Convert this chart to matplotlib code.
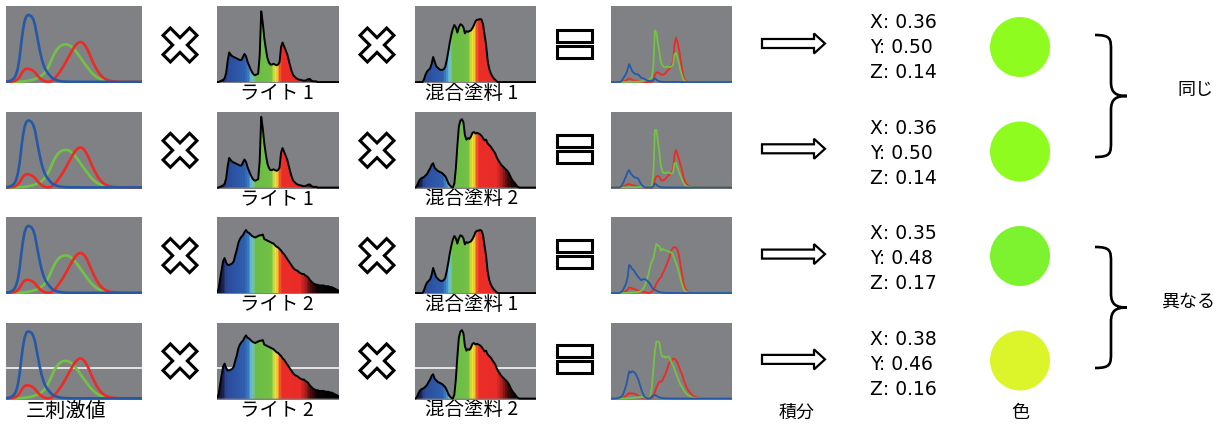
import numpy as np
import matplotlib.pyplot as plt
from matplotlib.colors import LinearSegmentedColormap
from matplotlib.patches import Polygon, Circle, Rectangle, PathPatch
from matplotlib.path import Path

# wavelength grid (nm)
wl = np.arange(380, 781, 5)

# CIE 1931 colour matching functions
cmf_x = [0.001, 0.002, 0.004, 0.008, 0.014, 0.023, 0.044, 0.078, 0.134, 0.215,
         0.284, 0.329, 0.348, 0.348, 0.336, 0.319, 0.291, 0.251, 0.195, 0.142,
         0.096, 0.058, 0.032, 0.015, 0.005, 0.002, 0.009, 0.029, 0.063, 0.110,
         0.166, 0.226, 0.290, 0.360, 0.433, 0.512, 0.595, 0.678, 0.762, 0.843,
         0.916, 0.979, 1.026, 1.057, 1.062, 1.046, 1.003, 0.938, 0.854, 0.751,
         0.642, 0.542, 0.448, 0.361, 0.284, 0.219, 0.165, 0.121, 0.087, 0.064,
         0.047, 0.033, 0.023, 0.016, 0.011, 0.008, 0.006, 0.004, 0.003, 0.002,
         0.001, 0.001, 0.001, 0.0, 0.0, 0.0, 0.0, 0.0, 0.0, 0.0, 0.0]
cmf_y = [0.0, 0.0, 0.0, 0.0, 0.0, 0.001, 0.001, 0.002, 0.004, 0.007,
         0.012, 0.017, 0.023, 0.030, 0.038, 0.048, 0.060, 0.074, 0.091, 0.113,
         0.139, 0.169, 0.208, 0.259, 0.323, 0.407, 0.503, 0.608, 0.710, 0.793,
         0.862, 0.915, 0.954, 0.980, 0.995, 1.000, 0.995, 0.979, 0.952, 0.915,
         0.870, 0.816, 0.757, 0.695, 0.631, 0.567, 0.503, 0.441, 0.381, 0.321,
         0.265, 0.217, 0.175, 0.138, 0.107, 0.082, 0.061, 0.045, 0.032, 0.023,
         0.017, 0.012, 0.008, 0.006, 0.004, 0.003, 0.002, 0.001, 0.001, 0.001,
         0.001, 0.0, 0.0, 0.0, 0.0, 0.0, 0.0, 0.0, 0.0, 0.0, 0.0]
cmf_z = [0.006, 0.011, 0.020, 0.036, 0.068, 0.110, 0.207, 0.371, 0.646, 1.039,
         1.386, 1.623, 1.747, 1.783, 1.772, 1.744, 1.669, 1.528, 1.288, 1.042,
         0.813, 0.616, 0.465, 0.353, 0.272, 0.212, 0.158, 0.112, 0.078, 0.057,
         0.042, 0.030, 0.020, 0.013, 0.009, 0.006, 0.004, 0.003, 0.002, 0.002,
         0.002, 0.001, 0.001, 0.001, 0.001, 0.001] + [0.0] * 35

# light spectra (relative)
light1 = [0.00, 0.00, 0.01, 0.02, 0.03, 0.05, 0.12, 0.28, 0.39, 0.36,
          0.34, 0.33, 0.32, 0.31, 0.30, 0.29, 0.29, 0.33, 0.37, 0.34,
          0.27, 0.22, 0.17, 0.13, 0.10, 0.09, 0.10, 0.11, 0.35, 0.93,
          0.78, 0.58, 0.44, 0.32, 0.26, 0.23, 0.23, 0.24, 0.23, 0.22,
          0.23, 0.26, 0.46, 0.52, 0.47, 0.42, 0.37, 0.29, 0.21, 0.14,
          0.09, 0.07, 0.05, 0.04, 0.03, 0.03, 0.02, 0.02, 0.02, 0.03,
          0.04, 0.04, 0.02, 0.01, 0.01, 0.01] + [0.0] * 15
light2 = [0.02, 0.05, 0.18, 0.30, 0.42, 0.46, 0.40, 0.37, 0.37, 0.38,
          0.39, 0.42, 0.50, 0.57, 0.66, 0.71, 0.74, 0.76, 0.80, 0.83,
          0.80, 0.79, 0.77, 0.75, 0.74, 0.73, 0.74, 0.75, 0.76, 0.76,
          0.77, 0.71, 0.70, 0.69, 0.68, 0.67, 0.66, 0.65, 0.63, 0.61,
          0.60, 0.58, 0.56, 0.53, 0.51, 0.48, 0.45, 0.42, 0.39, 0.36,
          0.33, 0.31, 0.30, 0.29, 0.27, 0.26, 0.25, 0.25, 0.23, 0.22,
          0.20, 0.17, 0.15, 0.13, 0.12, 0.11, 0.11, 0.10, 0.10, 0.10,
          0.10, 0.09, 0.09, 0.09, 0.08, 0.08, 0.07, 0.06, 0.05, 0.04, 0.03]

# paint reflectances (relative)
paint1 = [0.0, 0.0, 0.0, 0.0, 0.0, 0.0, 0.04, 0.10, 0.14, 0.16,
          0.18, 0.24, 0.33, 0.27, 0.21, 0.19, 0.17, 0.16, 0.16, 0.17,
          0.20, 0.29, 0.40, 0.52, 0.62, 0.70, 0.75, 0.72, 0.65, 0.72,
          0.76, 0.75, 0.72, 0.64, 0.67, 0.66, 0.67, 0.68, 0.71, 0.75,
          0.80, 0.82, 0.82, 0.83, 0.82, 0.76, 0.62, 0.49, 0.29, 0.18,
          0.12, 0.08, 0.05, 0.03, 0.01] + [0.0] * 26
paint2 = [0.0, 0.01, 0.06, 0.10, 0.12, 0.13, 0.14, 0.16, 0.18, 0.22,
          0.25, 0.30, 0.32, 0.26, 0.24, 0.22, 0.21, 0.20, 0.19, 0.17,
          0.15, 0.11, 0.06, 0.03, 0.01, 0.0, 0.05, 0.25, 0.55, 0.80,
          0.88, 0.90, 0.86, 0.69, 0.63, 0.65, 0.64, 0.67, 0.72, 0.73,
          0.71, 0.72, 0.71, 0.70, 0.68, 0.65, 0.62, 0.63, 0.58, 0.56,
          0.54, 0.51, 0.48, 0.45, 0.40, 0.36, 0.33, 0.30, 0.28, 0.26,
          0.24, 0.22, 0.19, 0.15, 0.11, 0.08, 0.06, 0.03, 0.01] + [0.0] * 12

row_lights = [light1, light1, light2, light2]
row_paints = [paint1, paint2, paint1, paint2]
light_labels = ['ライト 1', 'ライト 1', 'ライト 2', 'ライト 2']
paint_labels = ['混合塗料 1', '混合塗料 2', '混合塗料 1', '混合塗料 2']
xyz_values = [(0.36, 0.50, 0.14), (0.36, 0.50, 0.14), (0.35, 0.48, 0.17), (0.38, 0.46, 0.16)]
dot_colors = ['#8dfc1e', '#8dfc1e', '#7df22e', '#dcf52a']
group_labels = ['同じ', '異なる']

# spectrum colours for the fills
spec_wl = [380, 400, 412, 470, 482, 490, 497, 502, 555, 563, 570, 578, 585, 592, 650, 668, 685, 705, 780]
spec_col = ['#0b0b18', '#1e2455', '#2b4c9c', '#2f5fae', '#3a7cc0', '#62b8d8', '#7cc5a0', '#6abd46',
            '#72c046', '#b8d444', '#f1e52f', '#f6b033', '#ef5a2b', '#ec2e29', '#e82c28', '#b01f1f',
            '#4a0d0d', '#0c0404', '#000000']
spec_cmap = LinearSegmentedColormap.from_list(
    'spec', [((w - 380) / 400.0, c) for w, c in zip(spec_wl, spec_col)])

W, H = 1225, 428
GRAY = '#808184'
BLUE, GREEN, RED = '#2459a8', '#72c244', '#ee2a24'
JP = ['Noto Sans CJK JP', 'DejaVu Sans']

fig = plt.figure(figsize=(W / 100, H / 100), dpi=100)

# overlay in pixel coordinates for symbols and text
ov = fig.add_axes([0, 0, 1, 1])
ov.set_xlim(0, W)
ov.set_ylim(H, 0)
ov.axis('off')

ROW_TOP = [6, 111.5, 217, 322.5]
PH = 77
SYM_Y = [44, 149.3, 254.6, 359.9]
LABEL_Y = [93, 198.5, 304, 409.5]


def panel(x0, y0, w, h):
    ax = fig.add_axes([x0 / W, 1 - (y0 + h) / H, w / W, h / H])
    ax.set_facecolor(GRAY)
    ax.set_xticks([])
    ax.set_yticks([])
    for s in ax.spines.values():
        s.set_visible(False)
    ax.set_xlim(380, 780)
    return ax


def spectrum_panel(ax, vals):
    ax.set_ylim(-0.012, 1.0)
    strip = spec_cmap((wl - 380) / 400.0)[np.newaxis, :, :]
    im = ax.imshow(strip, extent=(377.5, 782.5, 0, 1), aspect='auto',
                   interpolation='nearest', zorder=2)
    verts = [(380, 0)] + list(zip(wl, vals)) + [(780, 0)]
    clip = Polygon(verts, closed=True, facecolor='none', edgecolor='none')
    ax.add_patch(clip)
    im.set_clip_path(clip)
    ax.plot(wl, vals, color='black', lw=1.4, zorder=3)
    ax.set_xlim(380, 780)


def cross(cx, cy):
    L, w = 18.8, 5.2
    pts = np.array([(w, w), (L, w), (L, -w), (w, -w), (w, -L), (-w, -L), (-w, -w),
                    (-L, -w), (-L, w), (-w, w), (-w, L), (w, L)])
    c, s = np.cos(np.pi / 4), np.sin(np.pi / 4)
    rot = pts @ np.array([[c, s], [-s, c]])
    ov.add_patch(Polygon(rot + [cx, cy], closed=True, facecolor='white',
                         edgecolor='black', lw=2.2, joinstyle='miter'))


def equals(cx, cy):
    for dy in (-8.5, 7.5):
        ov.add_patch(Rectangle((cx - 17.5, cy + dy - 6), 35, 12, facecolor='white',
                               edgecolor='black', lw=2.2))


def arrow(cy):
    x0, x1, xt = 762, 814, 825
    pts = [(x0, cy - 4.5), (x1, cy - 4.5), (x1, cy - 10), (xt, cy), (x1, cy + 10),
           (x1, cy + 4.5), (x0, cy + 4.5)]
    ov.add_patch(Polygon(pts, closed=True, facecolor='white', edgecolor='black',
                         lw=1.6, joinstyle='miter'))


def brace(ytop, ybot):
    x0, xm, xt = 1095, 1111, 1127
    ym = (ytop + ybot) / 2.0
    verts = [(x0, ytop), (xm, ytop), (xm, ytop + 4), (xm, ytop + 16),
             (xm, ym - 14),
             (xm, ym - 3), (xm + 5, ym), (xt, ym),
             (xm + 5, ym), (xm, ym + 3), (xm, ym + 14),
             (xm, ybot - 16),
             (xm, ybot - 4), (xm, ybot), (x0, ybot)]
    codes = [Path.MOVETO, Path.CURVE4, Path.CURVE4, Path.CURVE4, Path.LINETO,
             Path.CURVE4, Path.CURVE4, Path.CURVE4,
             Path.CURVE4, Path.CURVE4, Path.CURVE4, Path.LINETO,
             Path.CURVE4, Path.CURVE4, Path.CURVE4]
    ov.add_patch(PathPatch(Path(verts, codes), facecolor='none', edgecolor='black', lw=1.9))


cmf_x_a, cmf_y_a, cmf_z_a = np.array(cmf_x), np.array(cmf_y), np.array(cmf_z)

for r in range(4):
    top = ROW_TOP[r]

    # tristimulus curves
    ax = panel(6, top, 136, PH)
    ax.plot(wl, cmf_y_a, color=GREEN, lw=1.9)
    ax.plot(wl, cmf_x_a, color=RED, lw=1.9)
    ax.plot(wl, cmf_z_a, color=BLUE, lw=1.9)
    ax.set_ylim(-0.03, 2.02)
    if r == 3:
        ax.axhline(0.81, color='white', lw=1.1, zorder=0.5)

    # light
    ax = panel(217, top, 122, PH)
    spectrum_panel(ax, row_lights[r])
    if r == 3:
        ax.axhline(0.4, color='white', lw=1.1, zorder=0.5)

    # paint
    ax = panel(415, top, 121, PH)
    spectrum_panel(ax, row_paints[r])
    if r == 3:
        ax.axhline(0.4, color='white', lw=1.1, zorder=0.5)

    # product
    ax = panel(611, top, 121, PH)
    lp = np.array(row_lights[r]) * np.array(row_paints[r])
    ax.plot(wl, cmf_x_a * lp, color=RED, lw=1.3)
    ax.plot(wl, cmf_y_a * lp, color=GREEN, lw=1.3)
    ax.plot(wl, cmf_z_a * lp, color=BLUE, lw=1.3)
    ax.set_ylim(-0.01, 0.78)

    sy = SYM_Y[r]
    cross(180, sy + 1)
    cross(377, sy + 1)
    equals(574, sy)
    arrow(sy - 0.5)

    ov.text(277, LABEL_Y[r], light_labels[r], ha='center', va='center', fontsize=14, family=JP)
    ov.text(472, LABEL_Y[r], paint_labels[r], ha='center', va='center', fontsize=14, family=JP)

    for k, (name, v) in enumerate(zip(['X', 'Y', 'Z'], xyz_values[r])):
        ov.text(870, 28.3 + 105.5 * r + 25 * k, f'{name}: {v:.2f}', ha='left',
                va='baseline', fontsize=13.5, family='DejaVu Sans')

    ov.add_patch(Circle((1020, 47 + 104.5 * r), 30, facecolor=dot_colors[r], edgecolor='none'))

brace(35, 157)
brace(247, 368)
ov.text(1195, 90, group_labels[0], ha='center', va='center', fontsize=13, family=JP)
ov.text(1188, 302, group_labels[1], ha='center', va='center', fontsize=13, family=JP)

ov.text(66, 411, '三刺激値', ha='center', va='center', fontsize=14.5, family=JP)
ov.text(797, 413, '積分', ha='center', va='center', fontsize=13, family=JP)
ov.text(1020, 413, '色', ha='center', va='center', fontsize=13, family=JP)

fig.savefig('out.png', dpi=100)
